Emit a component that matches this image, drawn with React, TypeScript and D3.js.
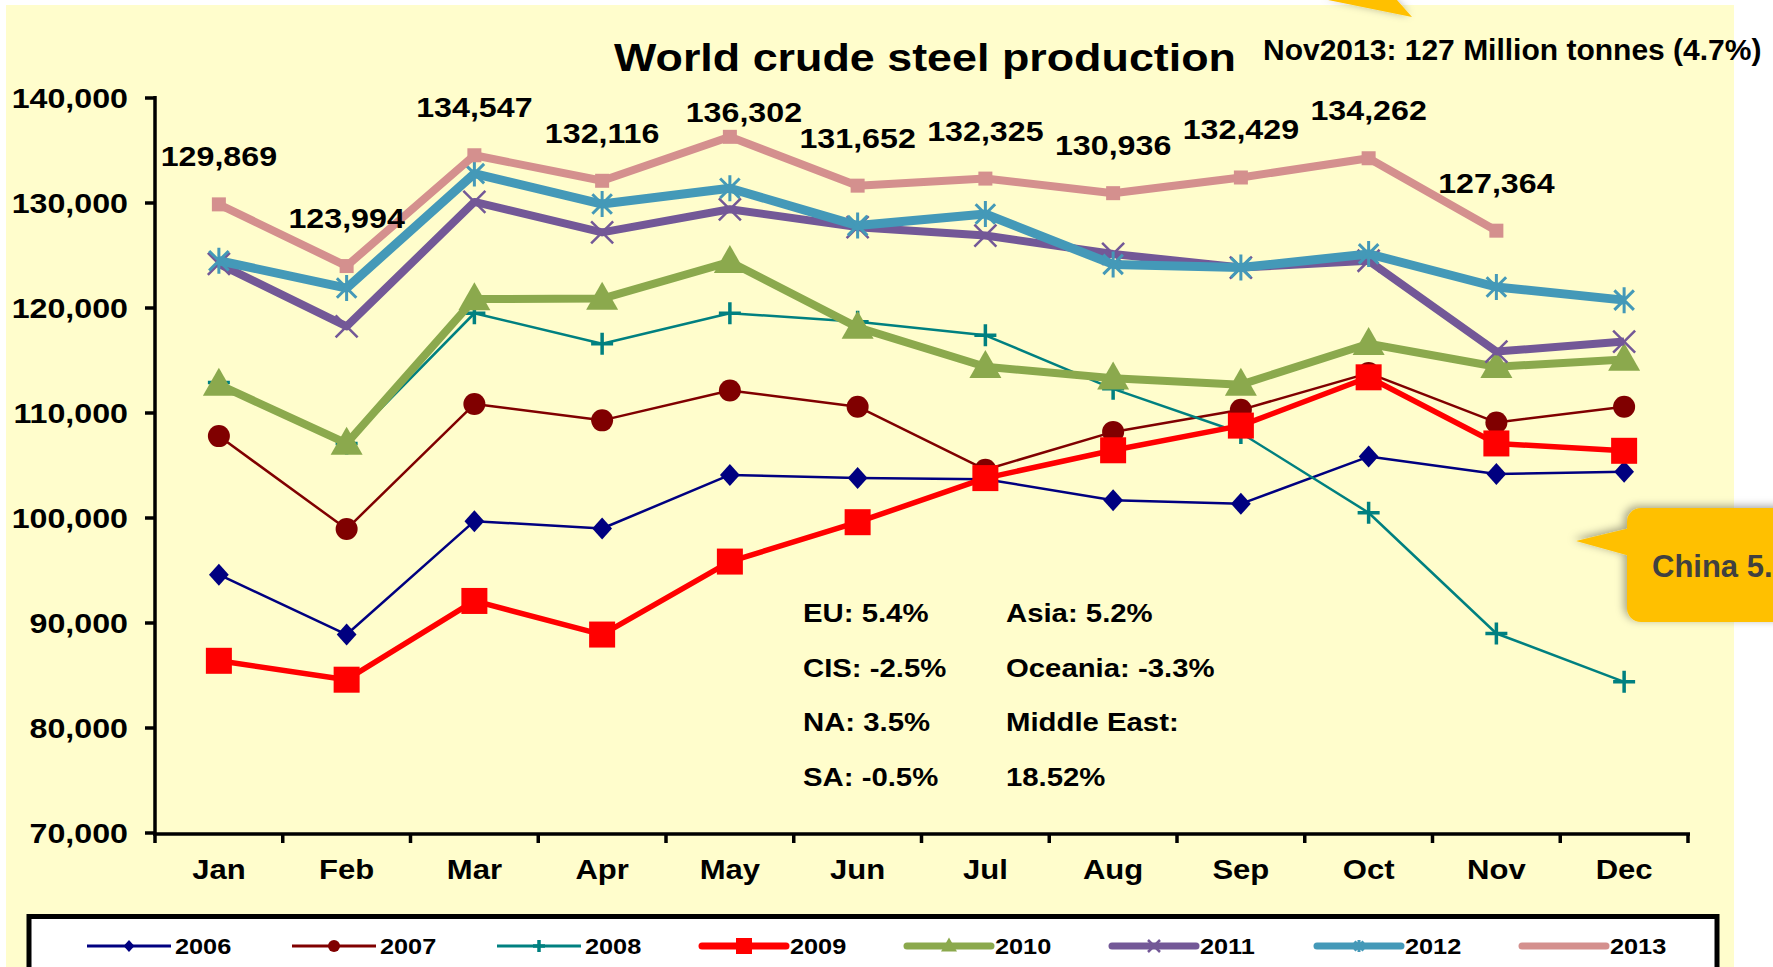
import React from 'react';
import * as d3 from 'd3';

const months = ['Jan', 'Feb', 'Mar', 'Apr', 'May', 'Jun', 'Jul', 'Aug', 'Sep', 'Oct', 'Nov', 'Dec'];
const years = ['2006', '2007', '2008', '2009', '2010', '2011', '2012', '2013'];

const s2006 = [94600, 88900, 99700, 99000, 104100, 103800, 103700, 101700, 101350, 105850, 104200, 104400];
const s2007 = [107800, 98950, 110850, 109300, 112150, 110600, 104600, 108200, 110300, 113800, 109100, 110600];
const s2008 = [112900, 107100, 119500, 116600, 119500, 118700, 117400, 112300, 108100, 100500, 89000, 84400];
const s2009 = [86400, 84600, 92100, 88900, 95850, 99600, 103800, 106450, 108800, 113400, 107100, 106400];
const s2010 = [112700, 107100, 120850, 120900, 124400, 118150, 114400, 113300, 112700, 116600, 114400, 115100];
const s2011 = [124200, 118250, 130100, 127200, 129400, 127700, 126900, 125150, 123850, 124500, 115850, 116800];
const s2012 = [124500, 121900, 132800, 129900, 131400, 127850, 128950, 124150, 123850, 125150, 122000, 120750];
const s2013 = [129869, 123994, 134547, 132116, 136302, 131652, 132325, 130936, 132429, 134262, 127364];

const yTicks = [70000, 80000, 90000, 100000, 110000, 120000, 130000, 140000];

const leftNotes = ['EU: 5.4%', 'CIS: -2.5%', 'NA: 3.5%', 'SA: -0.5%'];
const rightNotes = ['Asia: 5.2%', 'Oceania: -3.3%', 'Middle East:', '18.52%'];

const titleText = 'World crude steel production';
const subText = 'Nov2013: 127 Million tonnes (4.7%)';
const calloutText = 'China 5.';

const W = 1773;
const H = 967;
const SX = 1.15;

type Marker = 'diamond' | 'circle' | 'plus' | 'square' | 'triangle' | 'x' | 'star' | 'dash';

const seriesStyle: { color: string; width: number; marker: Marker; size: number }[] = [
  { color: '#000080', width: 2.5, marker: 'diamond', size: 11 },
  { color: '#800000', width: 2.5, marker: 'circle', size: 11 },
  { color: '#008080', width: 2.5, marker: 'plus', size: 11 },
  { color: '#FF0000', width: 5.5, marker: 'square', size: 13 },
  { color: '#8BA94D', width: 8, marker: 'triangle', size: 16 },
  { color: '#735897', width: 8, marker: 'x', size: 11 },
  { color: '#4499B8', width: 9, marker: 'star', size: 13 },
  { color: '#D4908E', width: 8, marker: 'dash', size: 7 },
];

const allSeries = [s2006, s2007, s2008, s2009, s2010, s2011, s2012, s2013];

function Txt({ x, y, size, anchor = 'start', weight = 'bold', fill = '#000', sx = SX, children }: any) {
  return (
    <text
      transform={`translate(${x},${y}) scale(${sx},1)`}
      fontSize={size}
      textAnchor={anchor}
      fontWeight={weight}
      fill={fill}
    >
      {children}
    </text>
  );
}

function MarkerShape({ kind, x, y, r, color }: { kind: Marker; x: number; y: number; r: number; color: string }) {
  switch (kind) {
    case 'diamond':
      return <path d={`M${x},${y - r} L${x + r * 0.9},${y} L${x},${y + r} L${x - r * 0.9},${y} Z`} fill={color} />;
    case 'circle':
      return <circle cx={x} cy={y} r={r} fill={color} />;
    case 'plus':
      return (
        <path d={`M${x - r},${y} H${x + r} M${x},${y - r} V${y + r}`} stroke={color} strokeWidth={3.5} fill="none" />
      );
    case 'square':
      return <rect x={x - r} y={y - r} width={r * 2} height={r * 2} fill={color} />;
    case 'triangle':
      return (
        <path d={`M${x},${y - r * 1.05} L${x + r},${y + r * 0.7} L${x - r},${y + r * 0.7} Z`} fill={color} />
      );
    case 'x':
      return (
        <path
          d={`M${x - r},${y - r} L${x + r},${y + r} M${x - r},${y + r} L${x + r},${y - r}`}
          stroke={color}
          strokeWidth={2.5}
          fill="none"
        />
      );
    case 'star': {
      const d = r * 0.75;
      return (
        <path
          d={`M${x - d},${y - d} L${x + d},${y + d} M${x - d},${y + d} L${x + d},${y - d} M${x},${y - r} V${y + r}`}
          stroke={color}
          strokeWidth={3}
          fill="none"
        />
      );
    }
    case 'dash':
      return <rect x={x - r} y={y - r} width={r * 2} height={r * 2} fill={color} />;
  }
  return null;
}

export default function App() {
  const x = d3.scaleBand<string>().domain(months).range([155, 1688]);
  const y = d3.scaleLinear().domain([70000, 140000]).range([833, 98]);
  const cx = (m: string) => (x(m) as number) + x.bandwidth() / 2;
  const fmt = d3.format(',');

  const line = d3
    .line<number>()
    .x((_, i) => cx(months[i]))
    .y((d) => y(d));

  const boundaries = d3.range(months.length + 1).map((i) => 155 + i * x.bandwidth());

  const legendX = d3.scaleLinear().domain([0, 1]).range([87, 292]);

  return (
    <svg
      width={W}
      height={H}
      style={{ position: 'absolute', left: 0, top: 0, display: 'block' }}
      fontFamily='"Liberation Sans", Arial, sans-serif'
    >
      <defs>
        <filter id="shadow" x="-30%" y="-30%" width="160%" height="160%">
          <feDropShadow dx="-3" dy="-2" stdDeviation="4" floodColor="#000" floodOpacity="0.35" />
        </filter>
      </defs>
      <rect x={0} y={0} width={W} height={H} fill="#fff" />
      <rect x={6} y={5} width={1728} height={H} fill="#FFFDCC" />

      {/* top callout tail */}
      <polygon points="1328,0 1397,0 1412,17" fill="#FFC000" filter="url(#shadow)" />

      <Txt x={925} y={71} size={39} anchor="middle">
        {titleText}
      </Txt>
      <Txt x={1263} y={60} size={30} sx={1}>
        {subText}
      </Txt>

      {/* y axis */}
      <line x1={155} x2={155} y1={96} y2={835} stroke="#000" strokeWidth={3.5} />
      {yTicks.map((t) => (
        <g key={t}>
          <line x1={145} x2={155} y1={y(t)} y2={y(t)} stroke="#000" strokeWidth={3.5} />
          <Txt x={128} y={y(t) + 10} size={28} anchor="end">
            {fmt(t)}
          </Txt>
        </g>
      ))}

      {/* x axis */}
      <line x1={153} x2={1690} y1={834} y2={834} stroke="#000" strokeWidth={3.5} />
      {boundaries.map((b, i) => (
        <line key={i} x1={b} x2={b} y1={834} y2={843} stroke="#000" strokeWidth={3.5} />
      ))}
      {months.map((m) => (
        <Txt key={m} x={cx(m)} y={879} size={27} anchor="middle">
          {m}
        </Txt>
      ))}

      {/* notes */}
      {leftNotes.map((t, i) => (
        <Txt key={t} x={803} y={622 + i * 54.5} size={25.5}>
          {t}
        </Txt>
      ))}
      {rightNotes.map((t, i) => (
        <Txt key={t} x={1006} y={622 + i * 54.5} size={25.5}>
          {t}
        </Txt>
      ))}

      {/* series */}
      {allSeries.map((s, si) => {
        const st = seriesStyle[si];
        return (
          <g key={years[si]}>
            <path
              d={line(s) || ''}
              fill="none"
              stroke={st.color}
              strokeWidth={st.width}
              strokeLinejoin="round"
            />
            {s.map((v, i) => (
              <MarkerShape key={i} kind={st.marker} x={cx(months[i])} y={y(v)} r={st.size} color={st.color} />
            ))}
          </g>
        );
      })}

      {/* 2013 data labels */}
      {s2013.map((v, i) => {
        const m = months[i];
        const shifted = m === 'May';
        return (
          <Txt key={m} x={cx(m) + (shifted ? 14 : 0)} y={y(v) - (shifted ? 15 : 38)} size={28} anchor="middle">
            {fmt(v)}
          </Txt>
        );
      })}

      {/* China callout */}
      <g filter="url(#shadow)">
        <rect x={1627} y={508} width={220} height={114} rx={14} fill="#FFC000" />
        <polygon points="1630,528 1576,541 1630,556" fill="#FFC000" />
      </g>
      <Txt x={1652} y={577} size={31} sx={1} fill="#404040">
        {calloutText}
      </Txt>

      {/* legend */}
      <rect x={29} y={916.5} width={1688} height={90} fill="#fff" stroke="#000" strokeWidth={5} />
      {years.map((yr, i) => {
        const st = seriesStyle[i];
        const x0 = legendX(i);
        const thin = st.width < 4;
        const lw = thin ? 3 : 7;
        const mid = x0 + 42;
        return (
          <g key={yr}>
            <line x1={x0} x2={x0 + 84} y1={946} y2={946} stroke={st.color} strokeWidth={lw} strokeLinecap={thin ? 'butt' : 'round'} />
            {st.marker !== 'dash' && (
              <MarkerShape kind={st.marker} x={mid} y={946} r={st.marker === 'square' ? 8 : st.marker === 'triangle' ? 8 : 6} color={st.color} />
            )}
            <Txt x={x0 + 88} y={954} size={22}>
              {yr}
            </Txt>
          </g>
        );
      })}
    </svg>
  );
}
